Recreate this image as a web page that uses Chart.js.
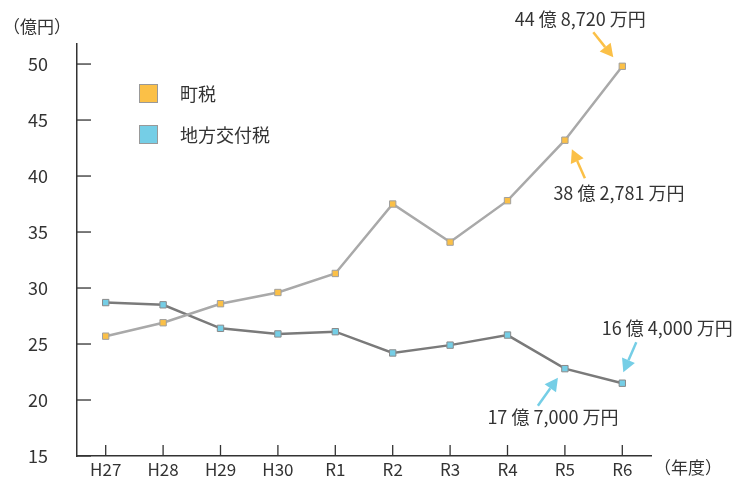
<!DOCTYPE html>
<html>
<head>
<meta charset="utf-8">
<script src="https://cdn.jsdelivr.net/npm/chart.js@4/dist/chart.umd.min.js"></script>
<style>
  html, body { margin: 0; padding: 0; background: #fff; }
  #wrap { width: 735px; height: 483px; }
</style>
</head>
<body>
<div id="wrap"><canvas id="myChart"></canvas></div>
<script>
const years = ['H27', 'H28', 'H29', 'H30', 'R1', 'R2', 'R3', 'R4', 'R5', 'R6'];
const chozei = [25.7, 26.9, 28.6, 29.6, 31.3, 37.5, 34.1, 37.8, 43.2, 49.8];
const kofuzei = [28.7, 28.5, 26.4, 25.9, 26.1, 24.2, 24.9, 25.8, 22.8, 21.5];
const yTicks = [15, 20, 25, 30, 35, 40, 45, 50];

// callouts: dataset, point index, text
const notes = [
  { ds: 0, idx: 9, text: '44 億 8,720 万円', tx: -42, ty: -47, ax: -29, ay: -34, bx: -9, by: -9 },
  { ds: 0, idx: 8, text: '38 億 2,781 万円', tx: 54, ty: 53, ax: 20, ay: 38, bx: 7, by: 9 },
  { ds: 1, idx: 9, text: '16 億 4,000 万円', tx: 45, ty: -55, ax: 14, ay: -41, bx: 1, by: -11 },
  { ds: 1, idx: 8, text: '17 億 7,000 万円', tx: -12, ty: 49, ax: -27, ay: 37, bx: -7, by: 9 }
];

const FONT = '"Noto Sans CJK JP", "Noto Sans", sans-serif';
const TXT = '#333';
const ORANGE = '#FBC047';
const BLUE = '#75CEE6';

function arrow(c, x1, y1, x2, y2, color) {
  const a = Math.atan2(y2 - y1, x2 - x1);
  const hl = 13, hw = 7;
  const bx = x2 - hl * Math.cos(a), by = y2 - hl * Math.sin(a);
  c.strokeStyle = color;
  c.fillStyle = color;
  c.lineWidth = 2.5;
  c.beginPath();
  c.moveTo(x1, y1);
  c.lineTo(bx, by);
  c.stroke();
  c.beginPath();
  c.moveTo(x2, y2);
  c.lineTo(bx + hw * Math.sin(a), by - hw * Math.cos(a));
  c.lineTo(bx - hw * Math.sin(a), by + hw * Math.cos(a));
  c.closePath();
  c.fill();
}

const extras = {
  id: 'extras',
  afterDatasetsDraw(chart) {
    const c = chart.ctx;
    const xs = chart.scales.x, ys = chart.scales.y;
    const area = chart.chartArea;
    c.save();
    // inner tick marks
    c.strokeStyle = TXT;
    c.lineWidth = 1.3;
    yTicks.forEach(v => {
      const y = ys.getPixelForValue(v);
      c.beginPath();
      c.moveTo(area.left, y);
      c.lineTo(area.left + 14, y);
      c.stroke();
    });
    years.forEach((l, i) => {
      const x = xs.getPixelForValue(i);
      c.beginPath();
      c.moveTo(x, area.bottom);
      c.lineTo(x, area.bottom - 11);
      c.stroke();
    });
    // axis titles
    c.fillStyle = TXT;
    c.font = '17px ' + FONT;
    c.textBaseline = 'middle';
    c.textAlign = 'left';
    c.fillText('（億円）', 3, 27);
    c.fillText('（年度）', 654, 468);
    // legend
    c.font = '18px ' + FONT;
    chart.data.datasets.forEach((d, i) => {
      const y = 84 + i * 41;
      c.fillStyle = d.pointBackgroundColor;
      c.fillRect(139, y, 19, 19);
      c.strokeStyle = '#999';
      c.lineWidth = 1;
      c.strokeRect(139.5, y + 0.5, 18, 18);
      c.fillStyle = TXT;
      c.fillText(d.label, 180, y + 10);
    });
    // callouts
    c.textAlign = 'center';
    notes.forEach(n => {
      const p = chart.getDatasetMeta(n.ds).data[n.idx];
      const col = chart.data.datasets[n.ds].pointBackgroundColor;
      arrow(c, p.x + n.ax, p.y + n.ay, p.x + n.bx, p.y + n.by, col);
      c.fillStyle = TXT;
      c.fillText(n.text, p.x + n.tx, p.y + n.ty);
    });
    c.restore();
  }
};

new Chart(document.getElementById('myChart'), {
  type: 'line',
  data: {
    labels: years,
    datasets: [
      {
        label: '町税',
        data: chozei,
        borderColor: '#A9A9A9',
        borderWidth: 2.5,
        pointStyle: 'rect',
        pointRadius: 4.5,
        pointBackgroundColor: ORANGE,
        pointBorderColor: '#A0A0A0',
        pointBorderWidth: 1,
        tension: 0
      },
      {
        label: '地方交付税',
        data: kofuzei,
        borderColor: '#7A7A7A',
        borderWidth: 2.5,
        pointStyle: 'rect',
        pointRadius: 4.5,
        pointBackgroundColor: BLUE,
        pointBorderColor: '#8A8A8A',
        pointBorderWidth: 1,
        tension: 0
      }
    ]
  },
  options: {
    responsive: true,
    maintainAspectRatio: false,
    animation: false,
    layout: { padding: { top: 44, right: 84, left: 0, bottom: 0 } },
    plugins: {
      legend: { display: false },
      tooltip: { enabled: false }
    },
    scales: {
      x: {
        offset: true,
        grid: { display: false, drawTicks: false },
        border: { display: true, color: TXT, width: 1.5 },
        ticks: { color: TXT, font: { family: FONT, size: 17 }, padding: 3, maxRotation: 0 },
        afterFit: s => { s.height = 27; s.paddingLeft = 0; s.paddingRight = 0; }
      },
      y: {
        min: 15,
        max: 51.79,
        grid: { display: false, drawTicks: false },
        border: { display: true, color: TXT, width: 1.5 },
        ticks: { stepSize: 5, color: TXT, font: { family: FONT, size: 18 }, padding: 29 },
        afterBuildTicks: s => { s.ticks = yTicks.map(v => ({ value: v })); },
        afterFit: s => { s.width = 77; s.paddingTop = 0; s.paddingBottom = 0; }
      }
    }
  },
  plugins: [extras]
});
</script>
</body>
</html>
